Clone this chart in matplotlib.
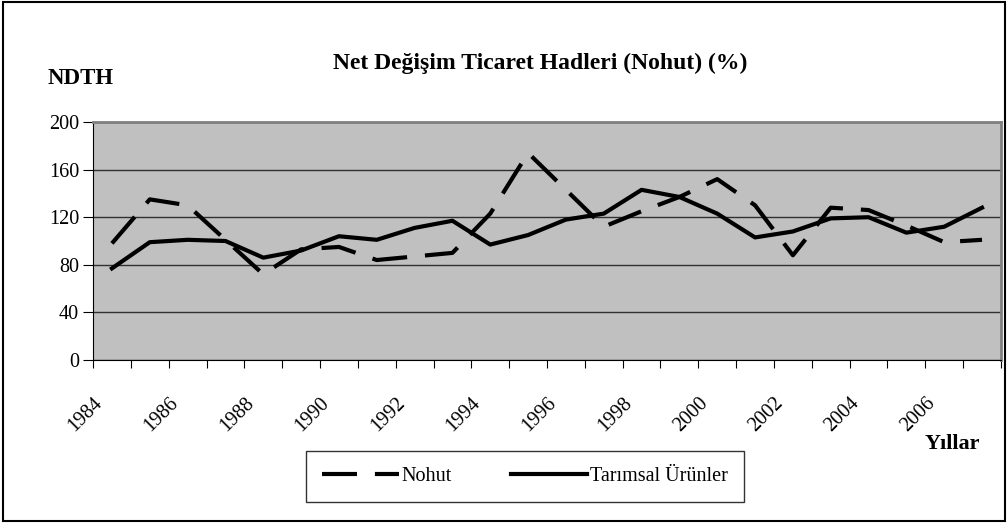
import matplotlib
matplotlib.use("Agg")
import matplotlib.pyplot as plt
import matplotlib.transforms as mtransforms
from matplotlib.patches import Rectangle
import numpy as np

years = list(range(1984, 2008))
nohut = [98, 135, 130, 101, 72, 93, 95, 84, 87, 90, 123, 174, 143, 112, 125, 137,
         152, 130, 88, 128, 126, 113, 99, 101]
tarimsal = [77, 99, 101, 100, 86, 92, 104, 101, 111, 117, 97, 105, 118, 123, 143, 137,
            123, 103, 108, 119, 120, 107, 112, 128]
y_ticks = [0, 40, 80, 120, 160, 200]

plt.rcParams["font.family"] = ["Liberation Serif", "DejaVu Serif"]

fig = plt.figure(figsize=(10.08, 5.23), dpi=100)
ax = fig.add_axes([0.0923, 0.3117, 0.9007, 0.455])

x = np.arange(len(years)) + 0.5
ax.set_facecolor("#C0C0C0")
ax.plot(x, nohut, color="black", lw=3, dashes=(8.4, 4.3), label="Nohut")
ax.plot(x, tarimsal, color="black", lw=3, label="Tarımsal Ürünler")

ax.set_xlim(0, len(years))
ax.set_ylim(0, 200)
ax.set_yticks(y_ticks)
ax.tick_params(axis="y", labelsize=14.5, length=7, direction="out", pad=3)
ax.yaxis.grid(True, color="#303030", lw=1)
ax.set_axisbelow(True)

# category axis: tick marks between years, labels on every other year
ax.set_xticks(np.arange(len(years) + 1))
ax.set_xticklabels([])
ax.tick_params(axis="x", which="major", length=6, direction="out")
lab_pos = [xi for xi, yr in zip(x, years) if yr % 2 == 0]
lab_txt = [str(yr) for yr in years if yr % 2 == 0]
ax.set_xticks(lab_pos, minor=True)
ax.set_xticklabels(lab_txt, minor=True, rotation=45, ha="right",
                   rotation_mode="anchor", fontsize=14.5)
ax.tick_params(axis="x", which="minor", length=0, pad=24)
shift = mtransforms.ScaledTranslation(-19 / 100, 0, fig.dpi_scale_trans)
for lab in ax.xaxis.get_minorticklabels():
    lab.set_transform(lab.get_transform() + shift)

for s in ["top", "right"]:
    ax.spines[s].set_color("#808080")
    ax.spines[s].set_linewidth(2)
for s in ["left", "bottom"]:
    ax.spines[s].set_color("black")

fig.text(0.536, 0.878, "Net Değişim Ticaret Hadleri (Nohut) (%)", ha="center",
         va="center", fontsize=17, fontweight="bold")
fig.text(0.047, 0.849, "NDTH", ha="left", va="center", fontsize=16.5, fontweight="bold")
fig.text(0.972, 0.152, "Yıllar", ha="right", va="center", fontsize=16, fontweight="bold")

leg = fig.legend(loc="center", bbox_to_anchor=(0.521, 0.089), ncol=2, fontsize=14.5,
                 frameon=True, fancybox=False, edgecolor="black", handlelength=3.8,
                 columnspacing=2.9, handletextpad=0.15, borderpad=0.8)
leg.get_frame().set_linewidth(1.0)

fig.patches.append(Rectangle((0.003, 0.004), 0.994, 0.992, transform=fig.transFigure,
                             fill=False, edgecolor="black", lw=1.5))

fig.savefig("out.png", dpi=100)
